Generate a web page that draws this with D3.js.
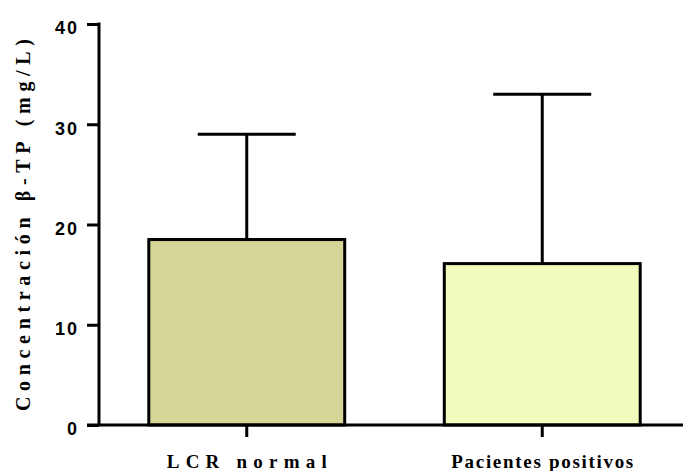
<!DOCTYPE html>
<html>
<head>
<meta charset="utf-8">
<script src="https://cdn.jsdelivr.net/npm/d3@7"></script>
<style>
  body { margin: 0; background: #fff; }
</style>
</head>
<body>
<div id="chart"></div>
<script>
// data
var groups = ["LCR normal", "Pacientes positivos"];
var means = [18.5, 16.1];
var errors = [10.5, 16.9];
var yTicks = [0, 10, 20, 30, 40];
var fills = ["#d5d598", "#f2fbbc"];

var width = 683;
var height = 471;

var svg = d3.select("#chart")
    .append("svg")
    .attr("width", width)
    .attr("height", height);

var x = d3.scaleBand()
    .domain(groups)
    .range([99, 690])
    .paddingInner(0.337)
    .paddingOuter(0.1685);

var y = d3.scaleLinear()
    .domain([0, 40])
    .range([425, 24]);

// error bars first, bars drawn over them
var err = svg.append("g").attr("class", "errors");
groups.forEach(function (g, i) {
    var cx = x(g) + x.bandwidth() / 2;
    var cw = x.bandwidth() / 4;
    err.append("line")
        .attr("x1", cx).attr("x2", cx)
        .attr("y1", y(means[i])).attr("y2", y(means[i] + errors[i]))
        .attr("stroke", "#000").attr("stroke-width", 3);
    err.append("line")
        .attr("x1", cx - cw).attr("x2", cx + cw)
        .attr("y1", y(means[i] + errors[i])).attr("y2", y(means[i] + errors[i]))
        .attr("stroke", "#000").attr("stroke-width", 3);
});

svg.append("g")
    .selectAll("rect")
    .data(groups)
    .enter()
    .append("rect")
    .attr("x", function (d) { return x(d); })
    .attr("y", function (d, i) { return y(means[i]); })
    .attr("width", x.bandwidth())
    .attr("height", function (d, i) { return y(0) - y(means[i]); })
    .attr("fill", function (d, i) { return fills[i]; })
    .attr("stroke", "#000")
    .attr("stroke-width", 3);

// y axis
var yAxis = svg.append("g")
    .attr("transform", "translate(99,0)")
    .call(d3.axisLeft(y).tickValues(yTicks).tickSize(12).tickSizeOuter(0).tickPadding(8));
yAxis.select(".domain").attr("stroke-width", 3).attr("d", "M0," + (y(40) - 1.5) + "V" + y(0));
yAxis.selectAll(".tick line").attr("stroke-width", 3);
yAxis.selectAll(".tick text")
    .style("font-family", "'Liberation Sans', Arial, sans-serif")
    .style("font-weight", "bold")
    .style("font-size", "18px")
    .attr("letter-spacing", "2px")
    .attr("dy", "0.55em")
    .attr("fill", "#000");

// x axis
var xAxis = svg.append("g")
    .attr("transform", "translate(0," + y(0) + ")")
    .call(d3.axisBottom(x).tickSize(12).tickSizeOuter(0).tickPadding(0));
xAxis.select(".domain").attr("stroke-width", 3).attr("d", "M87,0H683");
xAxis.selectAll(".tick line").attr("stroke-width", 3);
xAxis.selectAll(".tick text")
    .style("font-family", "'Liberation Serif', 'Times New Roman', serif")
    .style("font-weight", "bold")
    .style("font-size", "19px")
    .attr("y", 43)
    .attr("dy", 0)
    .attr("textLength", function (d, i) { return i === 0 ? 160 : 182; })
    .attr("lengthAdjust", "spacing")
    .attr("fill", "#000");

// y axis title
svg.append("text")
    .attr("transform", "translate(30,225)rotate(-90)")
    .attr("text-anchor", "middle")
    .style("font-family", "'Liberation Serif', 'Times New Roman', serif")
    .style("font-weight", "bold")
    .style("font-size", "20px")
    .attr("textLength", 372)
    .attr("lengthAdjust", "spacing")
    .text("Concentración β-TP (mg/L)");
</script>
</body>
</html>
